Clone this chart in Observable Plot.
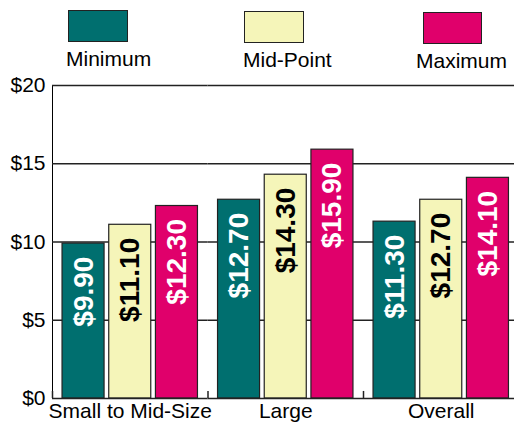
<!DOCTYPE html>
<html>
<head>
<meta charset="utf-8">
<script src="https://cdn.jsdelivr.net/npm/d3@7"></script>
<script src="https://cdn.jsdelivr.net/npm/@observablehq/plot@0.6"></script>
<style>
  html, body { margin: 0; padding: 0; background: #fff; }
  #wrap { position: relative; width: 514px; height: 423px; overflow: hidden; background: #fff;
          font-family: "Liberation Sans", Arial, Helvetica, sans-serif; }
  #chart { position: absolute; left: 0; top: 0; }
  .sw { position: absolute; box-sizing: border-box; border: 1px solid #222; }
  .lab { position: absolute; font-size: 21px; line-height: 21px; color: #000; white-space: nowrap; }
</style>
</head>
<body>
<div id="wrap">
  <div id="chart"></div>
  <div id="legend"></div>
</div>
<script>
// ---- data ----
const categories = ["Small to Mid-Size", "Large", "Overall"];
const seriesNames = ["Minimum", "Mid-Point", "Maximum"];
const minimumValues = [9.90, 12.70, 11.30];
const midPointValues = [11.10, 14.30, 12.70];
const maximumValues = [12.30, 15.90, 14.10];
const yTicks = [0, 5, 10, 15, 20];
const seriesColors = ["#006F6F", "#F5F5B9", "#E0006B"];

const seriesValues = [minimumValues, midPointValues, maximumValues];
const data = [];
categories.forEach((c, i) => {
  seriesNames.forEach((s, j) => {
    data.push({category: c, series: s, value: seriesValues[j][i]});
  });
});

// ---- legend (HTML) ----
const legendBoxes = [
  {left: 68, top: 10, w: 60, h: 32},
  {left: 244, top: 11, w: 60, h: 32},
  {left: 423, top: 12, w: 59, h: 32}
];
const legendLabels = [
  {left: 66, top: 48},
  {left: 243, top: 49},
  {left: 416, top: 50}
];
const legend = document.getElementById("legend");
seriesNames.forEach((s, i) => {
  const b = document.createElement("div");
  b.className = "sw";
  Object.assign(b.style, {left: legendBoxes[i].left + "px", top: legendBoxes[i].top + "px",
    width: legendBoxes[i].w + "px", height: legendBoxes[i].h + "px", background: seriesColors[i]});
  legend.appendChild(b);
  const t = document.createElement("div");
  t.className = "lab";
  t.textContent = s;
  Object.assign(t.style, {left: legendLabels[i].left + "px", top: legendLabels[i].top + "px"});
  legend.appendChild(t);
});

// ---- chart ----
const marginLeft = 52, width = 519, marginRight = 0.5;
const padInner = 0.1, padOuter = 0.215;
const facetW = (width - marginLeft - marginRight) / categories.length;
const step = facetW / (seriesNames.length - padInner + 2 * padOuter);
const sepOffset = padOuter * step + step * (1 - padInner) / 2;

const lineColor = "#222";

const chart = Plot.plot({
  width,
  height: 423,
  marginLeft,
  marginRight,
  marginTop: 85,
  marginBottom: 25,
  style: {
    fontFamily: '"Liberation Sans", Arial, Helvetica, sans-serif',
    fontSize: "21px",
    color: "#000",
    background: "transparent",
    maxWidth: "none",
    overflow: "visible"
  },
  facet: {data, x: "category"},
  fx: {
    domain: categories,
    padding: 0,
    round: false,
    axis: "bottom",
    tickSize: 0,
    tickPadding: 5,
    label: null
  },
  x: {
    domain: seriesNames,
    paddingInner: padInner,
    paddingOuter: padOuter,
    round: false,
    axis: null
  },
  y: {
    domain: [0, 20],
    ticks: yTicks,
    tickFormat: d => "$" + d,
    tickSize: 0,
    tickPadding: 7,
    label: null,
    line: true
  },
  color: {domain: seriesNames, range: seriesColors},
  marks: [
    Plot.ruleY(yTicks.slice(1), {stroke: lineColor, strokeWidth: 1.3}),
    Plot.barY(data, {x: "series", y: "value", fill: "series", stroke: lineColor, strokeWidth: 1.2}),
    Plot.ruleY([0], {stroke: lineColor, strokeWidth: 1.5}),
    Plot.ruleX(seriesNames.slice(0, 1), {x: d => d, y1: 0, y2: 0.45, dx: -sepOffset, stroke: lineColor, strokeWidth: 1.5}),
    Plot.text(data, {
      filter: d => d.series !== "Mid-Point",
      x: "series", y: "value",
      text: d => "$" + d.value.toFixed(2),
      rotate: -90, textAnchor: "end", lineAnchor: "middle",
      dy: 13, fill: "white", fontWeight: "bold", fontSize: 28
    }),
    Plot.text(data, {
      filter: d => d.series === "Mid-Point",
      x: "series", y: "value",
      text: d => "$" + d.value.toFixed(2),
      rotate: -90, textAnchor: "end", lineAnchor: "middle",
      dy: 13, fill: "black", fontWeight: "bold", fontSize: 28
    })
  ]
});
document.getElementById("chart").appendChild(chart);
</script>
</body>
</html>
